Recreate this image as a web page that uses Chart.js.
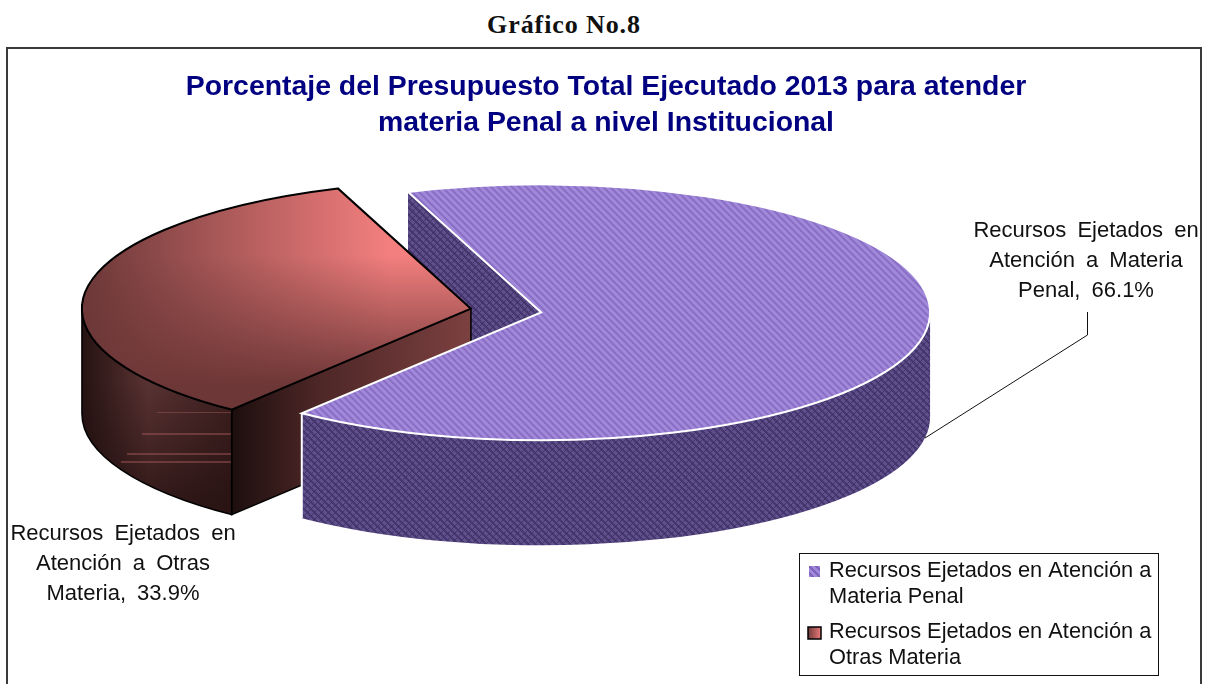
<!DOCTYPE html>
<html>
<head>
<meta charset="utf-8">
<title>Gráfico No.8</title>
<script src="https://cdn.jsdelivr.net/npm/chart.js@4"></script>
<style>
    html, body { margin: 0; padding: 0; background: #fff; overflow: hidden; }
    #heading { position: absolute; left: 0; top: 10px; width: 1128px; text-align: center;
        font: bold 26px "Liberation Serif", serif; letter-spacing: 0.9px; color: #111; }
    #frame { position: absolute; left: 6px; top: 47px; width: 1192px; height: 660px; border: 2px solid #3a3a3a; }
    #chart { position: absolute; left: 0; top: 0; }
</style>
</head>
<body>
<div id="heading">Gráfico No.8</div>
<div id="frame"></div>
<canvas id="chart" width="1207" height="684"></canvas>
<script>
// Data
const categories = ["Recursos Ejetados en Atención a Materia Penal", "Recursos Ejetados en Atención a Otras Materia"];
const values = [66.1, 33.9];
const titleLines = ["Porcentaje del Presupuesto Total Ejecutado 2013 para atender", "materia Penal a nivel Institucional"];
const penalLabel = ["Recursos Ejetados en", "Atención a Materia", "Penal, "];
const otrasLabel = ["Recursos Ejetados en", "Atención a Otras", "Materia, "];
const legendLines = [["Recursos Ejetados en Atención a", "Materia Penal"], ["Recursos Ejetados en Atención a", "Otras Materia"]];

// Look of the fake 3D pie
const FONT = '"Liberation Sans", Arial, sans-serif';
const center = { x: 506, y: 310.5 };
const squash = 0.329;
const depth = 105;
const explode = 35.5;

// Diagonal stripes, as in the Excel fill
function stripes(c1, c2, c3) {
    const tile = document.createElement("canvas");
    tile.width = tile.height = 7;
    const t = tile.getContext("2d");
    for (let y = 0; y < 7; y++) {
        for (let x = 0; x < 7; x++) {
            t.fillStyle = (x - y + 7) % 7 < 3.5 ? c1 : c2;
            if (c3 && (x + y) % 7 < 1) t.fillStyle = c3;
            t.fillRect(x, y, 1, 1);
        }
    }
    return tile;
}

const ctx0 = document.getElementById("chart").getContext("2d");
const topTile = stripes("#a189da", "#8b6fc6");
const wallTile = stripes("#5f4f8a", "#46376f", "#40326a");
const topPattern = ctx0.createPattern(topTile, "repeat");
topPattern.setTransform(new DOMMatrix().scale(1, 1 / squash));
const wallPattern = ctx0.createPattern(wallTile, "repeat");

function hGradient(ctx, x0, x1, stops) {
    const g = ctx.createLinearGradient(x0, 0, x1, 0);
    stops.forEach(function (s) { g.addColorStop(s[0], s[1]); });
    return g;
}

function sliceGeometry(arc) {
    const mid = (arc.startAngle + arc.endAngle) / 2;
    return {
        x: center.x + Math.cos(mid) * explode,
        y: center.y + Math.sin(mid) * explode * squash,
        r: arc.outerRadius,
        start: arc.startAngle,
        end: arc.endAngle
    };
}

function topPath(ctx, g) {
    ctx.beginPath();
    ctx.moveTo(g.x, g.y);
    ctx.ellipse(g.x, g.y, g.r, g.r * squash, 0, g.start, g.end);
    ctx.closePath();
}

function wallPath(ctx, g) {
    const from = Math.max(g.start, 0);
    const to = Math.min(g.end, Math.PI);
    ctx.beginPath();
    ctx.ellipse(g.x, g.y, g.r, g.r * squash, 0, from, to);
    ctx.ellipse(g.x, g.y + depth, g.r, g.r * squash, 0, to, from, true);
    ctx.closePath();
}

function facePath(ctx, g, angle) {
    const ex = g.x + Math.cos(angle) * g.r;
    const ey = g.y + Math.sin(angle) * g.r * squash;
    ctx.beginPath();
    ctx.moveTo(g.x, g.y);
    ctx.lineTo(ex, ey);
    ctx.lineTo(ex, ey + depth);
    ctx.lineTo(g.x, g.y + depth);
    ctx.closePath();
}

function drawTop(ctx, arc, g) {
    ctx.save();
    ctx.translate(g.x, g.y);
    ctx.scale(1, squash);
    ctx.translate(-arc.x, -arc.y);
    arc.draw(ctx);
    ctx.restore();
}

function drawOtras(ctx, arc) {
    const g = sliceGeometry(arc);

    // cut face towards the viewer
    ctx.save();
    facePath(ctx, g, g.start);
    ctx.fillStyle = hGradient(ctx, 232, 470, [[0, "#1d0e0e"], [0.35, "#4c2626"], [1, "#7c4040"]]);
    ctx.fill();
    ctx.strokeStyle = "#000";
    ctx.lineWidth = 1.5;
    ctx.stroke();
    ctx.restore();

    // outer wall
    ctx.save();
    wallPath(ctx, g);
    ctx.fillStyle = hGradient(ctx, 80, 232, [[0, "#241111"], [0.45, "#5a3333"], [1, "#3e2020"]]);
    ctx.fill();
    ctx.clip();
    const shade = ctx.createLinearGradient(0, 380, 0, 500);
    shade.addColorStop(0, "rgba(30,12,12,0)");
    shade.addColorStop(1, "rgba(30,12,12,0.65)");
    ctx.fillStyle = shade;
    ctx.fillRect(70, 300, 170, 230);
    // light streaks of the original render
    ctx.fillStyle = "rgba(170,90,90,0.45)";
    ctx.fillRect(157, 412, 75, 1);
    ctx.fillRect(142, 433, 90, 2);
    ctx.fillRect(127, 453, 105, 2);
    ctx.fillRect(121, 461, 111, 2);
    ctx.restore();
    ctx.strokeStyle = "#000";
    ctx.lineWidth = 1.5;
    wallPath(ctx, g);
    ctx.stroke();

    // top
    drawTop(ctx, arc, g);
    ctx.save();
    topPath(ctx, g);
    ctx.clip();
    ctx.fillStyle = hGradient(ctx, 90, 390, [[0, "#6f3a3a"], [1, "#f47f7f"]]);
    ctx.fillRect(60, 170, 430, 260);
    const dark = ctx.createLinearGradient(0, 255, 0, 385);
    dark.addColorStop(0, "rgba(110,55,55,0)");
    dark.addColorStop(1, "rgba(110,55,55,1)");
    ctx.fillStyle = dark;
    ctx.fillRect(60, 170, 430, 260);
    ctx.restore();
    topPath(ctx, g);
    ctx.strokeStyle = "#000";
    ctx.lineWidth = 2;
    ctx.stroke();
}

function drawPenalFace(ctx, arc) {
    const g = sliceGeometry(arc);
    facePath(ctx, g, g.start);
    ctx.fillStyle = wallPattern;
    ctx.fill();
}

function drawPenal(ctx, arc) {
    const g = sliceGeometry(arc);

    wallPath(ctx, g);
    ctx.fillStyle = wallPattern;
    ctx.fill();

    // white edge on the left of the wall
    const ex = g.x + Math.cos(g.end) * g.r;
    const ey = g.y + Math.sin(g.end) * g.r * squash;
    ctx.strokeStyle = "#fff";
    ctx.lineWidth = 2;
    ctx.beginPath();
    ctx.moveTo(ex, ey);
    ctx.lineTo(ex, ey + depth);
    ctx.stroke();

    drawTop(ctx, arc, g);
    topPath(ctx, g);
    ctx.strokeStyle = "#fff";
    ctx.lineWidth = 2;
    ctx.stroke();
}

const pie3d = {
    id: "pie3d",
    beforeDatasetDraw: function (chart, args) {
        const ctx = chart.ctx;
        const arcs = args.meta.data;
        ctx.save();
        drawPenalFace(ctx, arcs[0]);
        drawOtras(ctx, arcs[1]);
        drawPenal(ctx, arcs[0]);
        ctx.restore();
        return false;
    },
    afterDraw: function (chart) {
        const ctx = chart.ctx;
        ctx.save();
        ctx.fillStyle = "#111";
        ctx.textAlign = "center";
        ctx.textBaseline = "middle";

        // data labels
        ctx.font = "22px " + FONT;
        ctx.wordSpacing = "5px";
        penalLabel.forEach(function (line, i) {
            const text = i === 2 ? line + values[0] + "%" : line;
            ctx.fillText(text, 1086, 231 + i * 30);
        });
        otrasLabel.forEach(function (line, i) {
            const text = i === 2 ? line + values[1] + "%" : line;
            ctx.fillText(text, 123, 534 + i * 30);
        });
        ctx.wordSpacing = "0px";

        // leader line
        ctx.strokeStyle = "#111";
        ctx.lineWidth = 1;
        ctx.beginPath();
        ctx.moveTo(1087.5, 312);
        ctx.lineTo(1087.5, 335);
        ctx.lineTo(925, 438);
        ctx.stroke();

        // legend box
        ctx.fillStyle = "#fff";
        ctx.fillRect(799, 553, 359, 122);
        ctx.strokeRect(799.5, 553.5, 359, 122);

        // swatches
        ctx.fillStyle = ctx.createPattern(stripes("#a189da", "#7e62bc"), "repeat");
        ctx.fillRect(809, 566, 11, 11);
        const sw = ctx.createLinearGradient(808, 0, 822, 0);
        sw.addColorStop(0, "#6f3a3a");
        sw.addColorStop(1, "#f47f7f");
        ctx.fillStyle = sw;
        ctx.fillRect(808, 627, 13, 12);
        ctx.lineWidth = 1.5;
        ctx.strokeStyle = "#000";
        ctx.strokeRect(808, 627, 13, 12);

        // legend text
        ctx.fillStyle = "#111";
        ctx.textAlign = "left";
        ctx.font = "21.8px " + FONT;
        legendLines.forEach(function (lines, i) {
            lines.forEach(function (line, j) {
                ctx.fillText(line, 829, 571 + i * 61 + j * 26);
            });
        });
        ctx.restore();
    }
};

new Chart(ctx0, {
    type: "pie",
    data: {
        labels: categories,
        datasets: [{
            data: values,
            backgroundColor: [topPattern, "#b06060"],
            borderWidth: 0,
            hoverOffset: 0,
            clip: false
        }]
    },
    options: {
        responsive: false,
        animation: false,
        events: [],
        radius: 389,
        rotation: -20,
        layout: { padding: { left: 5 } },
        plugins: {
            legend: { display: false },
            tooltip: { enabled: false },
            title: {
                display: true,
                text: titleLines,
                color: "#000080",
                font: { family: FONT, size: 28.4, weight: "bold", lineHeight: 1.27 },
                padding: { top: 69, bottom: 10 }
            }
        }
    },
    plugins: [pie3d]
});
</script>
</body>
</html>
